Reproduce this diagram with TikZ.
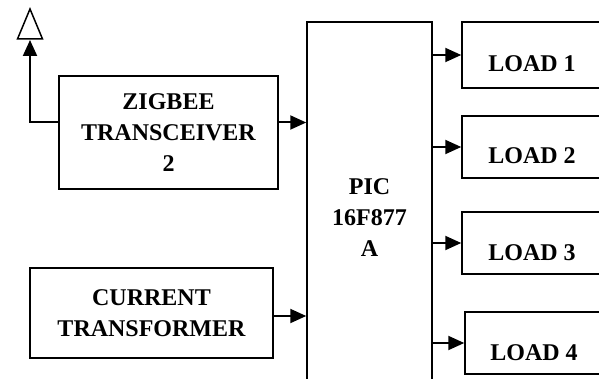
\documentclass[tikz,border=0pt]{standalone}
\usepackage{fontspec}
\setmainfont{Liberation Serif}
\usepackage{tikz}
\usetikzlibrary{arrows.meta, positioning}

\begin{document}
\begin{tikzpicture}[
    x=0.5pt, y=-0.5pt,
    block/.style={draw, line width=0.75pt, align=center, inner sep=2pt, font=\bfseries\fontsize{12}{15.5}\selectfont},
    loadbox/.style={block, minimum width=70pt, minimum height=31pt, text height=17pt, text depth=0pt},
    arrow/.style={-{Triangle[length=8pt, width=7pt]}, line width=1pt}
]
\useasboundingbox (0,0) rectangle (599,379);
\clip (0,0) rectangle (599,379);

\node (zig) [block, minimum width=109.5pt, minimum height=56.5pt] at (168.5,132.5) {ZIGBEE\\TRANSCEIVER\\2};
\node (ct) [block, minimum width=121.5pt, minimum height=45pt] at (151.5,313) {CURRENT\\TRANSFORMER};
\node (pic) [block, minimum width=62.5pt, minimum height=195.5pt] at (369.5,217.5) {PIC\\16F877\\A};
\node (load1) [loadbox, minimum height=33pt] at (532,55) {LOAD 1};
\node (load2) [loadbox] at (532,147) {LOAD 2};
\node (load3) [loadbox] at (532,243) {LOAD 3};
\node (load4) [loadbox, minimum width=69pt] at (534,343) {LOAD 4};

% antenna
\draw[line width=0.75pt] (17.5,39) -- (30,9) -- (42.5,39) -- cycle;
\coordinate (ant) at (30,40);

\coordinate (zigin) at ([yshift=5pt]zig.west);
\coordinate (zigout) at ([yshift=5pt]zig.east);
\coordinate (ctout) at ([yshift=-1.5pt]ct.east);

\draw[arrow] (zigin) -| (ant);
\draw[arrow] (zigout) -- (zigout -| pic.west);
\draw[arrow] (ctout) -- (ctout -| pic.west);
\foreach \i in {1,...,4}
    \draw[arrow] (pic.east |- load\i.west) -- (load\i.west);
\end{tikzpicture}
\end{document}
